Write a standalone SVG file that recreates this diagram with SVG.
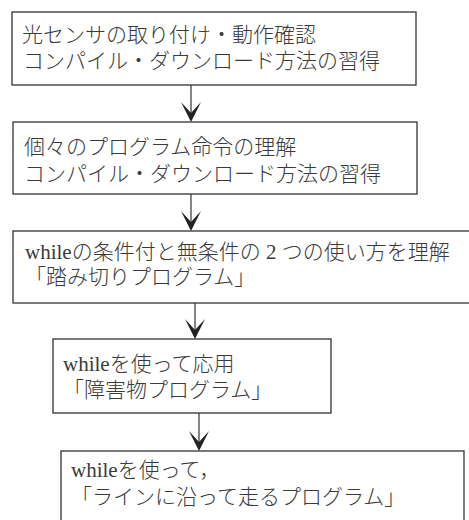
<svg xmlns="http://www.w3.org/2000/svg" width="469" height="520" viewBox="0 0 469 520">
<style>
.box{fill:#fff;stroke:#333;stroke-width:1.3}
.t{font-family:"Liberation Serif","Noto Sans CJK JP",serif;font-size:21px;font-weight:300;fill:#3a3a3a}
.c{stroke:#333;stroke-width:1.2;fill:none}
.ah{fill:#222;stroke:none}
</style>
<defs>
<path id="head" class="ah" d="M0,0 L-10,-20 L0,-9 L10,-20 Z"/>
</defs>
<rect width="469" height="520" fill="#fff"/>
<g id="connectors">
<line class="c" x1="191" y1="85" x2="191" y2="118"/>
<use href="#head" x="191" y="122"/>
<line class="c" x1="191" y1="194" x2="191" y2="227"/>
<use href="#head" x="191" y="231"/>
<line class="c" x1="195" y1="303" x2="195" y2="335"/>
<use href="#head" x="195" y="339"/>
<line class="c" x1="199" y1="413" x2="199" y2="447"/>
<use href="#head" x="199" y="451"/>
</g>
<g id="node1">
<rect class="box" x="12" y="12" width="404" height="73"/>
<text class="t" x="22" y="41.5">光センサの取り付け・動作確認</text>
<text class="t" x="23" y="67.5">コンパイル・ダウンロード方法の習得</text>
</g>
<g id="node2">
<rect class="box" x="13" y="122" width="404" height="72"/>
<text class="t" x="24" y="153.5">個々のプログラム命令の理解</text>
<text class="t" x="24" y="181">コンパイル・ダウンロード方法の習得</text>
</g>
<g id="node3">
<rect class="box" x="13" y="231" width="470" height="72"/>
<text class="t" x="25" y="259">whileの条件付と無条件の 2 つの使い方を理解</text>
<text class="t" x="25" y="284">「踏み切りプログラム」</text>
</g>
<g id="node4">
<rect class="box" x="53" y="339" width="278" height="74"/>
<text class="t" x="63" y="371">whileを使って応用</text>
<text class="t" x="63" y="397">「障害物プログラム」</text>
</g>
<g id="node5">
<rect class="box" x="61" y="451" width="403" height="80"/>
<text class="t" x="71" y="476.5">whileを使って，</text>
<text class="t" x="71" y="503.5">「ラインに沿って走るプログラム」</text>
</g>
</svg>
